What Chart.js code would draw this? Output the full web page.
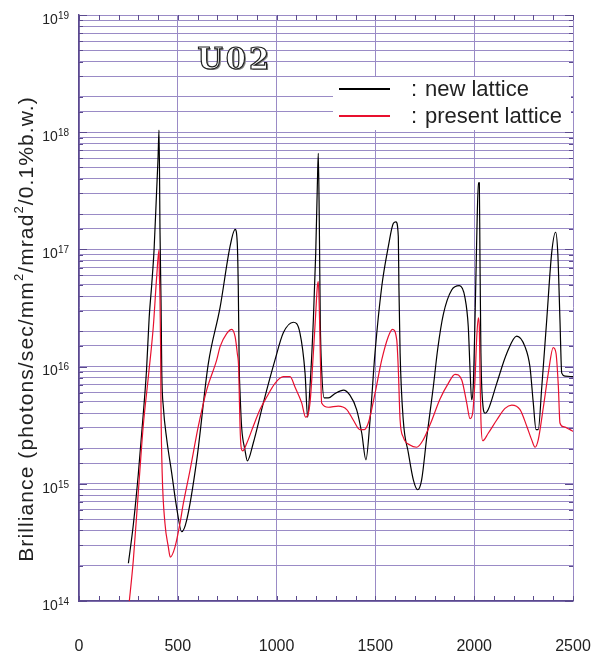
<!DOCTYPE html>
<html>
<head>
<meta charset="utf-8">
<script src="https://cdn.jsdelivr.net/npm/chart.js@4.4.1/dist/chart.umd.min.js"></script>
<style>
  html, body { margin: 0; padding: 0; background: #fff; }
</style>
</head>
<body>
<canvas id="graph" width="599" height="654"></canvas>
<script>
/* U02 brilliance curves, new vs present lattice */
var seriesLabels = ["new lattice", "present lattice"];
var decades = [1e14, 1e15, 1e16, 1e17, 1e18, 1e19];
var xLabels = [0, 500, 1000, 1500, 2000, 2500];

var newX = [250, 275, 300, 325, 342, 355, 368, 380, 393, 400, 405, 410, 415, 419, 427, 444, 469, 494, 520, 545,
    596, 654, 714, 764, 790, 801, 806, 811, 815, 823, 840, 852, 882, 933, 992, 1034, 1085, 1118, 1144, 1157,
    1169, 1186, 1198, 1206, 1211, 1216, 1221, 1228, 1241, 1262, 1296, 1338, 1371, 1405, 1431, 1452, 1473, 1498,
    1532, 1565, 1591, 1604, 1616, 1619, 1625, 1641, 1667, 1692, 1714, 1734, 1760, 1793, 1815, 1844, 1886, 1925,
    1953, 1970, 1979, 1987, 1995, 2004, 2013, 2021, 2026, 2029, 2034, 2043, 2055, 2071, 2114, 2165, 2215, 2257,
    2282, 2299, 2313, 2324, 2342, 2367, 2392, 2412, 2423, 2434, 2443, 2460, 2500];
var newY = [2.1e14, 4.5e14, 1.2e15, 3.9e15, 9.5e15, 2.6e16, 5.0e16, 1.0e17, 3.2e17, 6.0e17, 1.04e18, 1.4e17, 3.7e16,
    8.8e15, 4.5e15, 2.4e15, 1.24e15, 6.3e14, 3.9e14, 4.9e14,
    1.6e15, 1.05e16, 3.2e16, 1.05e17, 1.48e17, 1.13e17, 4.8e16, 9.7e15, 6.0e15, 3.05e15, 1.94e15, 1.57e15, 2.23e15,
    4.9e15, 1.14e16, 1.94e16, 2.39e16, 1.94e16, 8.8e15, 3.7e15,
    6.7e15, 2.5e16, 9.3e16, 3.4e17, 6.6e17, 1.78e17, 2.5e16, 9.4e15, 5.4e15, 5.4e15, 5.9e15, 6.3e15, 5.7e15, 4.3e15,
    2.7e15, 1.6e15, 3.5e15, 1.31e16,
    4.8e16, 1.05e17, 1.67e17, 1.72e17, 1.28e17, 4.8e16, 1.31e16, 3.5e15, 1.83e15, 1.08e15, 8.9e14, 1.08e15, 2.5e15,
    6.7e15, 1.4e16, 2.8e16, 4.5e16, 4.9e16,
    3.9e16, 2.19e16, 9.4e15, 5.2e15, 6.7e15, 2.5e16, 1.28e17, 3.7e17, 3.7e17, 9.3e16, 1.3e16, 4.9e15, 4.0e15, 4.3e15,
    7.2e15, 1.3e16, 1.82e16, 1.48e16,
    1.0e16, 4.9e15, 2.9e15, 2.9e15, 6.7e15, 2.5e16, 9.3e16, 1.4e17, 9.3e16, 2.5e16, 8.8e15, 8.3e15, 8.2e15];

var presentX = [252, 275, 300, 325, 351, 376, 393, 405, 406, 410, 413, 415, 421, 435, 452, 462, 486, 511, 528, 562,
    604, 646, 697, 714, 748, 773, 790, 801, 808, 811, 815, 820, 828, 849, 882, 916, 950, 992, 1034, 1068,
    1093, 1127, 1147, 1169, 1186, 1198, 1206, 1211, 1216, 1221, 1228, 1262, 1312, 1355, 1388, 1422, 1444, 1464,
    1498, 1532, 1565, 1586, 1608, 1616, 1625, 1641, 1675, 1709, 1742, 1780, 1827, 1869, 1903, 1937, 1962, 1979,
    1992, 2004, 2013, 2021, 2026, 2029, 2034, 2043, 2071, 2114, 2156, 2190, 2232, 2266, 2291, 2308, 2324, 2350,
    2375, 2400, 2414, 2426, 2434, 2451, 2485, 2500];
var presentY = [9e13, 2.24e14, 8.4e14, 3.1e15, 8.2e15, 2.19e16, 5.8e16, 9.9e16, 7.1e16, 3.7e16, 1.44e16, 4.5e15,
    1.23e15, 4.6e14, 2.9e14, 2.37e14, 2.9e14, 4.6e14, 6.8e14, 1.31e15,
    3.1e15, 6.3e15, 1.14e16, 1.48e16, 1.92e16, 2.08e16, 1.8e16, 1.3e16, 9.7e15, 5.9e15, 3.1e15, 2.08e15, 1.91e15,
    2.22e15, 3.1e15, 4.3e15, 5.5e15, 7.2e15, 8.2e15, 8.2e15,
    6.7e15, 4.9e15, 3.7e15, 4.9e15, 1.3e16, 2.85e16, 4.8e16, 5.3e16, 3.2e16, 1.3e16, 4.9e15, 4.5e15, 4.6e15, 4.3e15,
    3.5e15, 2.9e15, 2.9e15, 3.3e15,
    5.9e15, 1.14e16, 1.8e16, 2.08e16, 1.69e16, 9.4e15, 3.5e15, 2.5e15, 2.14e15, 2.05e15, 2.37e15, 3.3e15, 5.3e15,
    7.2e15, 8.6e15, 7.7e15, 4.9e15, 3.6e15,
    4.0e15, 7.7e15, 1.8e16, 2.6e16, 2.19e16, 9.4e15, 3.5e15, 2.33e15, 2.7e15, 3.5e15, 4.4e15, 4.7e15, 4.3e15, 3.1e15,
    2.37e15, 2.05e15, 2.37e15, 4.5e15,
    8.8e15, 1.45e16, 1.3e16, 6.7e15, 3.3e15, 3.07e15, 2.9e15, 2.8e15];

var gridColor = "#9a8bc6";
var frameColor = "#5b4a8e";
var textColor = "#222";
var sansFont = "'Liberation Sans', Arial, sans-serif";

function toPoints(xs, ys) {
    return xs.map(function (x, i) { return { x: x, y: ys[i] }; });
}

// decade labels with superscripts, small ticks, y title, legend box and the U02 stamp
var decorations = {
    id: "decorations",
    afterDatasetsDraw: function (chart) {
        var ctx = chart.ctx;
        var area = chart.chartArea;
        var xs = chart.scales.x;
        var ys = chart.scales.y;
        ctx.save();

        // inner ticks on x (every 100) top and bottom
        ctx.strokeStyle = frameColor;
        ctx.lineWidth = 1;
        xs.ticks.forEach(function (t) {
            var px = Math.round(xs.getPixelForValue(t.value)) + 0.5;
            ctx.beginPath();
            ctx.moveTo(px, area.bottom);
            ctx.lineTo(px, area.bottom - 5);
            ctx.moveTo(px, area.top);
            ctx.lineTo(px, area.top + 5);
            ctx.stroke();
        });
        // inner ticks on y, left and right
        ys.ticks.forEach(function (t) {
            var py = Math.round(ys.getPixelForValue(t.value)) + 0.5;
            var len = decades.indexOf(t.value) >= 0 ? 8 : 4;
            ctx.beginPath();
            ctx.moveTo(area.left, py);
            ctx.lineTo(area.left + len, py);
            ctx.moveTo(area.right, py);
            ctx.lineTo(area.right - len, py);
            ctx.stroke();
        });

        // decade labels 10^n
        ctx.fillStyle = textColor;
        ctx.textBaseline = "middle";
        decades.forEach(function (v) {
            var py = ys.getPixelForValue(v);
            var exp = String(Math.round(Math.log10(v)));
            ctx.font = "10px " + sansFont;
            var ew = ctx.measureText(exp).width;
            ctx.textAlign = "left";
            ctx.fillText(exp, 69 - ew, py + 1);
            ctx.font = "14px " + sansFont;
            ctx.textAlign = "right";
            ctx.fillText("10", 69 - ew, py + 5);
        });

        // y title with real superscripts
        var parts = [["Brilliance (photons/sec/mm", 0], ["2", 1], ["/mrad", 0], ["2", 1], ["/0.1%b.w.)", 0]];
        ctx.save();
        ctx.translate(26, 329);
        ctx.rotate(-Math.PI / 2);
        ctx.letterSpacing = "1.1px";
        var total = 0;
        parts.forEach(function (p) {
            ctx.font = (p[1] ? "13px " : "21px ") + sansFont;
            total += ctx.measureText(p[0]).width;
        });
        var cx = -total / 2;
        ctx.textAlign = "left";
        parts.forEach(function (p) {
            ctx.font = (p[1] ? "13px " : "21px ") + sansFont;
            ctx.fillText(p[0], cx, p[1] ? -7 : 1);
            cx += ctx.measureText(p[0]).width;
        });
        ctx.restore();

        // legend box
        ctx.fillStyle = "#fff";
        ctx.fillRect(333, 77, 238, 53);
        ctx.font = "22px " + sansFont;
        ctx.textAlign = "left";
        chart.data.datasets.forEach(function (ds, i) {
            var ly = 89 + i * 27;
            ctx.strokeStyle = ds.borderColor;
            ctx.lineWidth = 2;
            ctx.beginPath();
            ctx.moveTo(339, ly);
            ctx.lineTo(390, ly);
            ctx.stroke();
            ctx.fillStyle = textColor;
            ctx.fillText(":", 411, ly + 1);
            ctx.fillText(ds.label, 425, ly + 1);
        });

        // U02 stamp
        ctx.font = "bold 29px 'DejaVu Serif', serif";
        ctx.textBaseline = "alphabetic";
        ctx.letterSpacing = "3px";
        ctx.fillStyle = "#888";
        ctx.fillText("U02", 199, 70);
        ctx.fillStyle = "#fff";
        ctx.fillText("U02", 197.5, 68.5);
        ctx.strokeStyle = "#222";
        ctx.lineWidth = 1.2;
        ctx.strokeText("U02", 197.5, 68.5);
        ctx.restore();
    }
};

var graph = document.getElementById("graph").getContext("2d");

var myChart = new Chart(graph, {
    type: "line",
    data: {
        datasets: [{
            label: seriesLabels[0],
            data: toPoints(newX, newY),
            borderColor: "#000",
            borderWidth: 1.2,
            pointRadius: 0,
            cubicInterpolationMode: "monotone",
            order: 2,
        }, {
            label: seriesLabels[1],
            data: toPoints(presentX, presentY),
            borderColor: "#e8102e",
            borderWidth: 1.2,
            pointRadius: 0,
            cubicInterpolationMode: "monotone",
            order: 1,
        }],
    },
    options: {
        responsive: false,
        animation: false,
        devicePixelRatio: 1,
        layout: {
            padding: { top: 15, right: 26, left: 0, bottom: 0 },
        },
        plugins: {
            legend: { display: false },
            tooltip: { enabled: false },
        },
        scales: {
            x: {
                type: "linear",
                min: 0,
                max: 2500,
                afterFit: function (scale) {
                    scale.height = 53;
                    scale.paddingLeft = 0;
                    scale.paddingRight = 0;
                },
                ticks: {
                    stepSize: 100,
                    autoSkip: false,
                    maxRotation: 0,
                    padding: 36,
                    color: textColor,
                    font: { size: 16, family: sansFont },
                    callback: function (v) { return xLabels.indexOf(v) >= 0 ? String(v) : ""; },
                },
                grid: {
                    drawTicks: false,
                    color: function (c) {
                        return c.tick && xLabels.indexOf(c.tick.value) >= 0 ? gridColor : "rgba(0,0,0,0)";
                    },
                },
                border: { color: frameColor, width: 1.5 },
            },
            y: {
                type: "logarithmic",
                min: 1e14,
                max: 1e19,
                afterFit: function (scale) {
                    scale.width = 79;
                    scale.paddingTop = 0;
                    scale.paddingBottom = 0;
                },
                ticks: { display: false },
                grid: { drawTicks: false, color: gridColor },
                border: { color: frameColor, width: 1.5 },
            },
        },
    },
    plugins: [decorations],
});
</script>
</body>
</html>
